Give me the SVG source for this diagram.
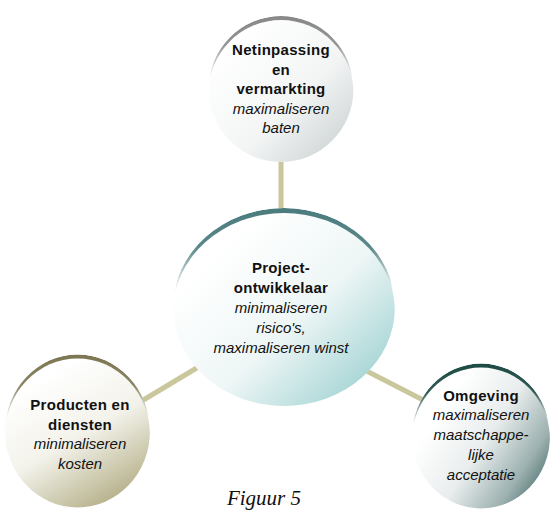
<svg xmlns="http://www.w3.org/2000/svg" width="551" height="511" viewBox="0 0 551 511">
<style>
.b{font-family:"Liberation Sans",Arial,sans-serif;font-size:15px;font-weight:bold;letter-spacing:0.3px;fill:#111;text-anchor:middle}
.i{font-family:"Liberation Sans",Arial,sans-serif;font-size:15px;font-style:italic;fill:#111;text-anchor:middle}
.conn{stroke:#cac79d;stroke-width:5;fill:none}
</style>
<defs>
<linearGradient id="gTop" x1="0.15" y1="0.15" x2="1" y2="1">
<stop offset="0" stop-color="#ffffff"/><stop offset="0.5" stop-color="#f3f5f5"/><stop offset="1" stop-color="#c3caca"/>
</linearGradient>
<linearGradient id="gCen" x1="0.2" y1="0.2" x2="1" y2="0.95">
<stop offset="0" stop-color="#ffffff"/><stop offset="0.45" stop-color="#eef6f6"/><stop offset="1" stop-color="#8fcaca"/>
</linearGradient>
<linearGradient id="gLeft" x1="0.3" y1="0.1" x2="0.8" y2="1">
<stop offset="0" stop-color="#ffffff"/><stop offset="0.45" stop-color="#f3f2ea"/><stop offset="1" stop-color="#aba67a"/>
</linearGradient>
<linearGradient id="gRight" x1="0.2" y1="0.3" x2="1" y2="0.85">
<stop offset="0" stop-color="#ffffff"/><stop offset="0.4" stop-color="#e9eded"/><stop offset="0.75" stop-color="#9cb1b0"/><stop offset="1" stop-color="#3f6462"/>
</linearGradient>
<linearGradient id="aTop" x1="0" y1="0" x2="0" y2="1">
<stop offset="0" stop-color="#888888" stop-opacity="1"/><stop offset="0.2" stop-color="#888888" stop-opacity="0.9"/><stop offset="0.42" stop-color="#888888" stop-opacity="0"/>
</linearGradient>
<linearGradient id="aCen" x1="0" y1="0" x2="0" y2="1">
<stop offset="0" stop-color="#4a7b7d" stop-opacity="1"/><stop offset="0.2" stop-color="#4a7b7d" stop-opacity="0.9"/><stop offset="0.42" stop-color="#4a7b7d" stop-opacity="0"/>
</linearGradient>
<linearGradient id="aLeft" x1="0" y1="0" x2="0" y2="1">
<stop offset="0" stop-color="#7c7652" stop-opacity="1"/><stop offset="0.2" stop-color="#7c7652" stop-opacity="0.9"/><stop offset="0.42" stop-color="#7c7652" stop-opacity="0"/>
</linearGradient>
<linearGradient id="aRight" x1="0" y1="0" x2="0" y2="1">
<stop offset="0" stop-color="#1d4a44" stop-opacity="1"/><stop offset="0.2" stop-color="#1d4a44" stop-opacity="0.9"/><stop offset="0.42" stop-color="#1d4a44" stop-opacity="0"/>
</linearGradient>
<clipPath id="cTop"><ellipse cx="281" cy="89" rx="72.5" ry="73"/></clipPath>
<clipPath id="cCen"><ellipse cx="284" cy="307" rx="111" ry="99"/></clipPath>
<clipPath id="cLeft"><ellipse cx="77.5" cy="431" rx="72.5" ry="76.5"/></clipPath>
<clipPath id="cRight"><ellipse cx="481" cy="436" rx="69" ry="72.5"/></clipPath>
</defs>
<rect width="551" height="511" fill="#ffffff"/>
<g id="connectors">
<line class="conn" x1="281" y1="150" x2="281" y2="220"/>
<line class="conn" x1="135" y1="405" x2="205" y2="363"/>
<line class="conn" x1="355" y1="365" x2="425" y2="401"/>
</g>
<g id="node-top">
<g clip-path="url(#cTop)">
<ellipse cx="281" cy="89" rx="72.5" ry="73" fill="#ffffff"/>
<ellipse cx="281" cy="89" rx="72.5" ry="73" fill="url(#aTop)"/>
<ellipse cx="281" cy="93" rx="72.5" ry="73" fill="url(#gTop)"/>
</g>
<text class="b" x="281" y="55">Netinpassing</text>
<text class="b" x="281" y="74.5">en</text>
<text class="b" x="281" y="94">vermarkting</text>
<text class="i" x="281" y="113.5">maximaliseren</text>
<text class="i" x="281" y="133">baten</text>
</g>
<g id="node-center">
<g clip-path="url(#cCen)">
<ellipse cx="284" cy="307" rx="111" ry="99" fill="#ffffff"/>
<ellipse cx="284" cy="307" rx="111" ry="99" fill="url(#aCen)"/>
<ellipse cx="284" cy="312" rx="111" ry="99" fill="url(#gCen)"/>
</g>
<text class="b" x="281" y="273">Project-</text>
<text class="b" x="281" y="293">ontwikkelaar</text>
<text class="i" x="281" y="313">minimaliseren</text>
<text class="i" x="281" y="333">risico's,</text>
<text class="i" x="281" y="352.5">maximaliseren winst</text>
</g>
<g id="node-left">
<g clip-path="url(#cLeft)">
<ellipse cx="77.5" cy="431" rx="72.5" ry="76.5" fill="#ffffff"/>
<ellipse cx="77.5" cy="431" rx="72.5" ry="76.5" fill="url(#aLeft)"/>
<ellipse cx="77.5" cy="435" rx="72.5" ry="76.5" fill="url(#gLeft)"/>
</g>
<text class="b" x="80" y="410">Producten en</text>
<text class="b" x="80" y="429.5">diensten</text>
<text class="i" x="80" y="449">minimaliseren</text>
<text class="i" x="80" y="468.5">kosten</text>
</g>
<g id="node-right">
<g clip-path="url(#cRight)">
<ellipse cx="481" cy="436" rx="69" ry="72.5" fill="#ffffff"/>
<ellipse cx="481" cy="436" rx="69" ry="72.5" fill="url(#aRight)"/>
<ellipse cx="481" cy="440" rx="69" ry="72.5" fill="url(#gRight)"/>
</g>
<text class="b" x="481" y="401">Omgeving</text>
<text class="i" x="481" y="420">maximaliseren</text>
<text class="i" x="481" y="440">maatschappe-</text>
<text class="i" x="481" y="460">lijke</text>
<text class="i" x="481" y="480">acceptatie</text>
</g>
<text x="264" y="505" font-family="'Liberation Serif','Times New Roman',serif" font-size="21" font-style="italic" text-anchor="middle" fill="#111">Figuur 5</text>
</svg>
